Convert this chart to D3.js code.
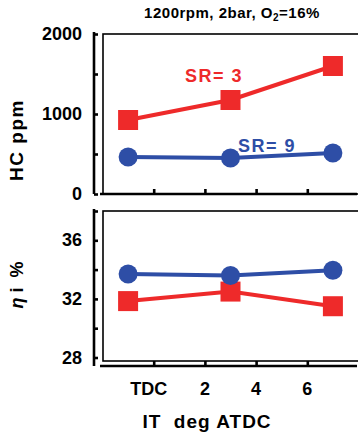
<!DOCTYPE html>
<html>
<head>
<meta charset="utf-8">
<script src="https://cdn.jsdelivr.net/npm/d3@7"></script>
<style>
  body { margin: 0; background: #fff; }
  text { font-family: "Liberation Sans", Arial, sans-serif; font-weight: bold; }
</style>
</head>
<body>
<div id="chart"></div>
<script>
// injection timing, deg ATDC (TDC = 0)
const timing = [-1, 3, 7];
const hcSR3 = [925, 1175, 1600];
const hcSR9 = [462, 450, 512];
const etaSR3 = [31.85, 32.5, 31.5];
const etaSR9 = [33.7, 33.6, 33.95];
const xTicks = [0, 2, 4, 6];
const xTickLabels = ["TDC", "2", "4", "6"];
const hcTicks = [0, 500, 1000, 1500, 2000];
const hcLabels = [0, 1000, 2000];
const etaTicks = [28, 30, 32, 34, 36, 38];
const etaLabels = [28, 32, 36];

const red = "#ee2a2a", blue = "#2e4ea6";
const W = 358, H = 436;

const svg = d3.select("#chart").append("svg")
    .attr("width", W)
    .attr("height", H);

const x = d3.scaleLinear().domain([-2, 8]).range([102.5, 358.5]);
const yHC = d3.scaleLinear().domain([0, 2000]).range([194, 34]);
const yEta = d3.scaleLinear().domain([28, 38]).range([357.5, 211]);

// title
const title = svg.append("text")
    .attr("x", 232)
    .attr("y", 18)
    .attr("text-anchor", "middle")
    .style("letter-spacing", "0.5px")
    .style("font-size", "15px");
title.append("tspan").text("1200rpm, 2bar, O");
title.append("tspan").attr("dy", 3).style("font-size", "10px").text("2");
title.append("tspan").attr("dy", -3).text("=16%");

function panel(y, ticks, labels, y0, y1, axisY) {
    const g = svg.append("g");
    // plot area frame
    g.append("rect")
        .attr("x", 103).attr("y", y0)
        .attr("width", W - 103 + 10).attr("height", y1 - y0)
        .attr("fill", "none")
        .attr("stroke", "#000")
        .attr("stroke-width", 1.6);

    // left axis, ticks pointing inward
    const yAxis = d3.axisRight(y).tickValues(ticks).tickSize(4).tickFormat("");
    const ya = g.append("g").attr("transform", "translate(94,0)").call(yAxis);
    ya.select(".domain").attr("d", `M0,${y0 - 2}V${axisY}`);
    ya.selectAll("path, line").attr("stroke", "#000").attr("stroke-width", 2.6);

    g.selectAll(".ylab")
        .data(labels)
        .enter().append("text")
        .attr("x", 82)
        .attr("y", d => y(d) + 6)
        .attr("text-anchor", "end")
        .style("font-size", "18px")
        .text(d => d);

    // bottom axis, ticks pointing up
    const xAxis = d3.axisTop(x).tickValues(xTicks).tickSize(5).tickFormat("");
    const xa = g.append("g").attr("transform", `translate(0,${axisY})`).call(xAxis);
    xa.select(".domain").attr("d", `M100,0H357`);
    xa.selectAll("path, line").attr("stroke", "#000").attr("stroke-width", 2.6);
    return g;
}

function series(g, y, vals, color, shape) {
    const line = d3.line()
        .x((d, i) => x(timing[i]))
        .y(d => y(d));
    g.append("path")
        .datum(vals)
        .attr("fill", "none")
        .attr("stroke", color)
        .attr("stroke-width", 4)
        .attr("d", line);
    if (shape === "square") {
        g.selectAll(null)
            .data(vals)
            .enter().append("rect")
            .attr("x", (d, i) => x(timing[i]) - 10)
            .attr("y", d => y(d) - 10)
            .attr("width", 20)
            .attr("height", 20)
            .attr("fill", color);
    } else {
        g.selectAll(null)
            .data(vals)
            .enter().append("circle")
            .attr("cx", (d, i) => x(timing[i]))
            .attr("cy", d => y(d))
            .attr("r", 9.5)
            .attr("fill", color);
    }
}

const hcPanel = panel(yHC, hcTicks, hcLabels, 34, 194, 194);
series(hcPanel, yHC, hcSR3, red, "square");
series(hcPanel, yHC, hcSR9, blue, "circle");

hcPanel.append("text")
    .attr("x", 214).attr("y", 82)
    .attr("text-anchor", "middle")
    .attr("fill", red)
    .style("font-size", "18px")
    .style("letter-spacing", "1.5px")
    .text("SR= 3");
hcPanel.append("text")
    .attr("x", 267).attr("y", 152)
    .attr("text-anchor", "middle")
    .attr("fill", blue)
    .style("font-size", "18px")
    .style("letter-spacing", "1.5px")
    .text("SR= 9");

const etaPanel = panel(yEta, etaTicks, etaLabels, 211, 361, 366);
series(etaPanel, yEta, etaSR3, red, "square");
series(etaPanel, yEta, etaSR9, blue, "circle");

// x tick labels
svg.selectAll(".xlab")
    .data(xTicks)
    .enter().append("text")
    .attr("x", (d, i) => i === 0 ? x(d) - 5 : x(d))
    .attr("y", 395)
    .attr("text-anchor", "middle")
    .style("font-size", "18px")
    .text((d, i) => xTickLabels[i]);

svg.append("text")
    .attr("x", 207)
    .attr("y", 428)
    .attr("text-anchor", "middle")
    .style("font-size", "19px")
    .style("letter-spacing", "1px")
    .attr("xml:space", "preserve")
    .text("IT  deg ATDC");

// y axis titles
svg.append("text")
    .attr("transform", "translate(23,140) rotate(-90)")
    .attr("text-anchor", "middle")
    .style("font-size", "19px")
    .style("letter-spacing", "1.5px")
    .text("HC ppm");

const eta = svg.append("text")
    .attr("transform", "translate(23,285) rotate(-90)")
    .attr("text-anchor", "middle")
    .attr("xml:space", "preserve")
    .style("font-size", "18px");
eta.append("tspan").style("font-style", "italic").text("η");
eta.append("tspan").text(" i  %");
</script>
</body>
</html>
